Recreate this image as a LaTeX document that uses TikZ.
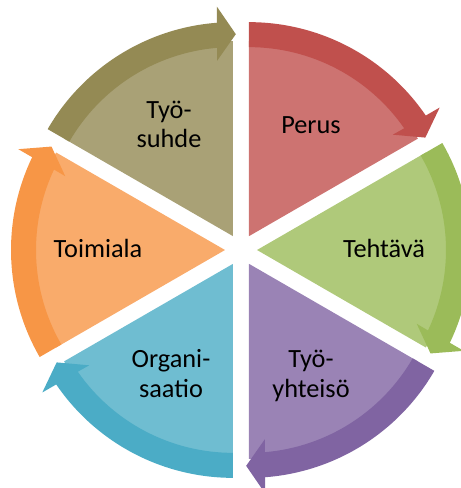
\documentclass[tikz,border=0pt]{standalone}
\usepackage{fontspec}
\setmainfont{Carlito}
\definecolor{cOlive}{HTML}{948A54}
\definecolor{cRed}{HTML}{C0504D}
\definecolor{cGreen}{HTML}{9BBB59}
\definecolor{cPurple}{HTML}{8064A2}
\definecolor{cAqua}{HTML}{4BACC6}
\definecolor{cOrange}{HTML}{F79646}
\begin{document}
\begin{tikzpicture}[x=1pt,y=1pt,
  lbl/.style={font=\fontsize{26.3}{29.5}\selectfont, align=center, inner sep=0pt, anchor=base, text=black}]
\useasboundingbox (-241,-238) rectangle (220,250);
\clip (-241,-238) rectangle (220,250);
\foreach \b/\c in {120/cOlive,60/cRed,0/cGreen,-60/cPurple,-120/cAqua,180/cOrange}{
  \begin{scope}[shift={(\b:16pt)}]
    \pgfmathsetmacro\s{\b+30}
    \pgfmathsetmacro\e{\b-30}
    \fill[\c!80!white] (0,0) -- (\s:195pt) arc[start angle=\s, end angle=\e, radius=195pt] -- cycle;
    \fill[\c] (\s:189pt) arc[start angle=\s, end angle=\e+4.8, radius=189pt]
      -- (\e+5.2:176pt) -- (\e-0.8:202pt) -- (\e+4:230pt) -- (\e+4.3:214pt)
      arc[start angle=\e+4.3, end angle=\s, radius=214pt] -- cycle;
  \end{scope}
}
\node[lbl] (tyosuhde) at (-72,102.25) {Työ-\\suhde};
\node[lbl] (perus) at (70,117) {Perus};
\node[lbl] (tehtava) at (143,-7) {Tehtävä};
\node[lbl] (tyoyhteiso) at (70,-147.25) {Työ-\\yhteisö};
\node[lbl] (organisaatio) at (-70,-147.25) {Organi-\\saatio};
\node[lbl] (toimiala) at (-143,-7) {Toimiala};
\end{tikzpicture}
\end{document}
